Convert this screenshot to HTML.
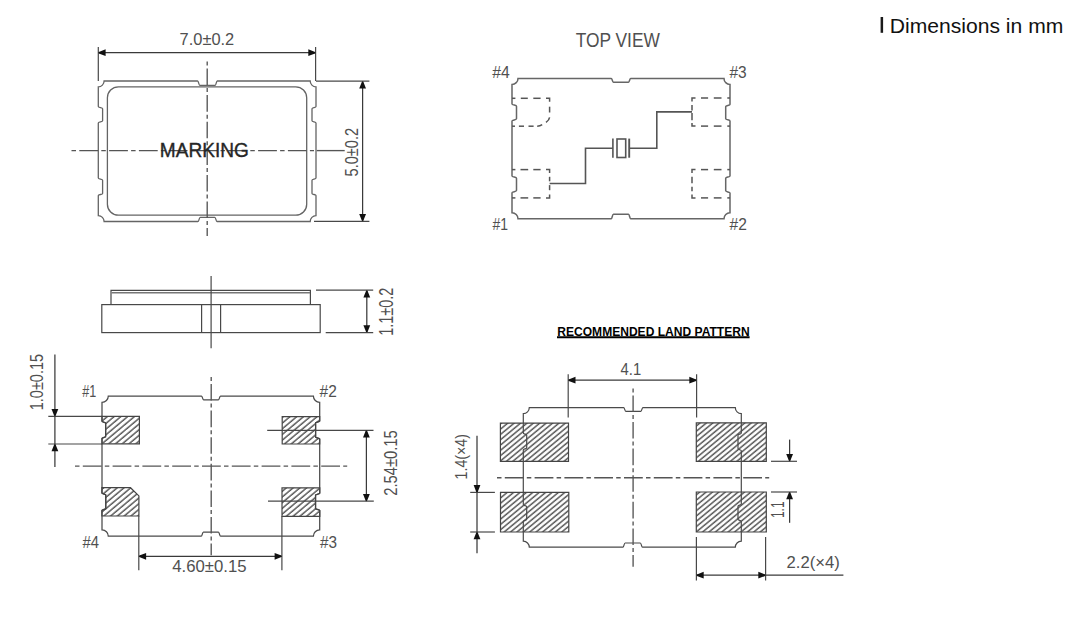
<!DOCTYPE html>
<html><head><meta charset="utf-8"><style>
html,body{margin:0;padding:0;background:#fff;}
svg{display:block;}
text{font-family:"Liberation Sans",sans-serif;}
.t{fill:#505050;}
.tm{fill:#262626;stroke:#262626;stroke-width:0.35;}
.tb{fill:#111;}
.o{fill:none;stroke:#646464;stroke-width:1.3;}
.otv{fill:none;stroke:#666;stroke-width:1.5;}
.os{fill:none;stroke:#484848;stroke-width:1.2;}
.ob{fill:none;stroke:#4a4a4a;stroke-width:1.25;}
.o2{fill:none;stroke:#777;stroke-width:1.4;}
.ot{fill:none;stroke:#4a4a4a;stroke-width:1.2;}
.d{stroke:#484848;stroke-width:1.2;}
.dl{stroke:#3a3a3a;stroke-width:1.25;}
.ul{stroke:#000;stroke-width:1.9;}
.tk{fill:#000;}
.ar{fill:#111;}
.c{stroke:#555;stroke-width:1.35;fill:none;}
.ch{stroke-dasharray:4.5 3.3 18.8 3.2;}
.cv{stroke-dasharray:4 3 16.6 3;}
.dsh{fill:none;stroke:#555;stroke-width:1.5;}
.w{fill:none;stroke:#555;stroke-width:1.6;}
.pad{fill:none;stroke:#444;stroke-width:1.2;}
</style></head><body>
<svg width="1069" height="625" viewBox="0 0 1069 625">
<defs><pattern id="hatchB" patternUnits="userSpaceOnUse" width="4.35" height="10" patternTransform="rotate(50)"><line x1="1" y1="-1" x2="1" y2="11" stroke="#555" stroke-width="1.45"/></pattern><pattern id="hatchL" patternUnits="userSpaceOnUse" width="4.08" height="10" patternTransform="rotate(50.4)"><line x1="1" y1="-1" x2="1" y2="11" stroke="#555" stroke-width="1.5"/></pattern></defs>
<path class="o" d="M104.1,81 L197.6,81 C198.7,81 198.7,85.3 199.8,85.3 L215.1,85.3 C216.2,85.3 216.2,81 217.3,81 L310.2,81 A5.8,5.8 0 0 0 316,86.8 L316,106.5 C316,107.6 312,107.6 312,108.7 L312,120.8 C312,121.9 316,121.9 316,123 L316,178 C316,179.1 312,179.1 312,180.2 L312,193.4 C312,194.5 316,194.5 316,195.6 L316,215.7 A5.8,5.8 0 0 0 310.2,221.5 L217,221.5 C215.9,221.5 215.9,217.3 214.8,217.3 L200.2,217.3 C199.1,217.3 199.1,221.5 198,221.5 L104.1,221.5 A5.8,5.8 0 0 0 98.3,215.7 L98.3,195.6 C98.3,194.5 102.6,194.5 102.6,193.4 L102.6,180.2 C102.6,179.1 98.3,179.1 98.3,178 L98.3,123 C98.3,121.9 102.6,121.9 102.6,120.8 L102.6,108.7 C102.6,107.6 98.3,107.6 98.3,106.5 L98.3,86.8 A5.8,5.8 0 0 0 104.1,81 Z"/>
<rect class="o" x="107.4" y="86.8" width="199.3" height="128.4" rx="11" ry="11"/>
<line class="c ch" x1="71.5" y1="150.6" x2="314" y2="150.6"/>
<line class="c" x1="316.7" y1="150.6" x2="344.7" y2="150.6"/>
<line class="c cv" x1="207.2" y1="61.5" x2="207.2" y2="236"/>
<text class="tm" x="159.8" y="157" font-size="19.5" textLength="89" lengthAdjust="spacingAndGlyphs">MARKING</text>
<line class="d" x1="98.3" y1="47" x2="98.3" y2="81"/>
<line class="d" x1="315.6" y1="47" x2="315.6" y2="81"/>
<line class="dl" x1="98.3" y1="52.7" x2="315.6" y2="52.7"/>
<polygon class="ar" points="98.8,52 98.8,53.4 105.6,56.1 105.6,49.3"/>
<polygon class="ar" points="315.1,52 315.1,53.4 308.3,56.1 308.3,49.3"/>
<text class="t" x="179.6" y="44.5" font-size="17" textLength="54.6" lengthAdjust="spacingAndGlyphs">7.0±0.2</text>
<line class="d" x1="316" y1="81.2" x2="369.4" y2="81.2"/>
<line class="d" x1="314" y1="221.3" x2="369.4" y2="221.3"/>
<line class="dl" x1="362.6" y1="81.2" x2="362.6" y2="221.3"/>
<polygon class="ar" points="361.9,81.7 363.3,81.7 366,88.5 359.2,88.5"/>
<polygon class="ar" points="361.9,220.8 363.3,220.8 366,214 359.2,214"/>
<text class="t" transform="translate(357.6,176.4) rotate(-90)" x="0" y="0" font-size="19" textLength="48.5" lengthAdjust="spacingAndGlyphs">5.0±0.2</text>
<text class="t" x="575.7" y="46.9" font-size="19.5" textLength="84.2" lengthAdjust="spacingAndGlyphs">TOP VIEW</text>
<path class="otv" d="M518,78.4 L611.2,78.4 C612.3,78.4 612.3,82.2 613.4,82.2 L628.5,82.2 C629.6,82.2 629.6,78.4 630.7,78.4 L724,78.4 A6,6 0 0 0 730,84.4 L730,104.4 C730,105.5 725.7,105.5 725.7,106.6 L725.7,118.7 C725.7,119.8 730,119.8 730,120.9 L730,176 C730,177.1 725.7,177.1 725.7,178.2 L725.7,190.8 C725.7,191.9 730,191.9 730,193 L730,212.7 A6,6 0 0 0 724,218.7 L630.7,218.7 C629.6,218.7 629.6,214.3 628.5,214.3 L613.4,214.3 C612.3,214.3 612.3,218.7 611.2,218.7 L518,218.7 A6,6 0 0 0 512,212.7 L512,192.8 C512,191.7 516.5,191.7 516.5,190.6 L516.5,178.2 C516.5,177.1 512,177.1 512,176 L512,121 C512,119.9 516.5,119.9 516.5,118.8 L516.5,106.2 C516.5,105.1 512,105.1 512,104 L512,84.4 A6,6 0 0 0 518,78.4 Z"/>
<path class="dsh" d="M512,98.3 L515.4,98.3"/>
<path class="dsh" d="M520.8,98.3 L527.8,98.3"/>
<path class="dsh" d="M533.3,98.3 L540.6,98.3"/>
<path class="dsh" d="M546,98.3 L549.6,98.3 L549.6,101.8"/>
<path class="dsh" d="M549.6,106.7 L549.6,112.5"/>
<path class="dsh" d="M549.6,117.3 Q549.2,120 546,122.3"/>
<path class="dsh" d="M542.2,124.6 Q540,126 537.2,126.2"/>
<path class="dsh" d="M528.5,126.2 L533.6,126.2"/>
<path class="dsh" d="M518.9,126.2 L524,126.2"/>
<path class="dsh" d="M512,126.2 L515,126.2"/>
<path class="dsh" d="M512,169.6 L515.4,169.6"/>
<path class="dsh" d="M520.5,169.6 L528.2,169.6"/>
<path class="dsh" d="M533.3,169.6 L540.6,169.6"/>
<path class="dsh" d="M546,169.6 L549.6,169.6 L549.6,173.1"/>
<path class="dsh" d="M549.6,176.8 L549.6,181.3"/>
<path class="dsh" d="M549.6,185.1 L549.6,190.2"/>
<path class="dsh" d="M549.6,194.4 L549.6,197.9 L546,197.9"/>
<path class="dsh" d="M512,197.9 L515.4,197.9"/>
<path class="dsh" d="M520.5,197.9 L528.2,197.9"/>
<path class="dsh" d="M533.3,197.9 L540.6,197.9"/>
<path class="dsh" d="M695.5,98 L692,98 L692,101.4"/>
<path class="dsh" d="M701,98 L708.1,98"/>
<path class="dsh" d="M713.8,98 L721.5,98"/>
<path class="dsh" d="M727.3,98 L730,98"/>
<path class="dsh" d="M692,105.1 L692,110.5"/>
<path class="dsh" d="M692,113.1 L692,120.2"/>
<path class="dsh" d="M692,123 L692,126.1 L695.5,126.1"/>
<path class="dsh" d="M701,126.1 L708.1,126.1"/>
<path class="dsh" d="M713.8,126.1 L721.5,126.1"/>
<path class="dsh" d="M727.3,126.1 L730,126.1"/>
<path class="dsh" d="M695.5,169.6 L692,169.6 L692,173"/>
<path class="dsh" d="M701,169.6 L708.1,169.6"/>
<path class="dsh" d="M713.8,169.6 L721.5,169.6"/>
<path class="dsh" d="M727.3,169.6 L730,169.6"/>
<path class="dsh" d="M692,176.7 L692,183.3"/>
<path class="dsh" d="M692,186.7 L692,191.2"/>
<path class="dsh" d="M692,194.4 L692,197.9 L695.5,197.9"/>
<path class="dsh" d="M701,197.9 L708.1,197.9"/>
<path class="dsh" d="M713.8,197.9 L721.5,197.9"/>
<path class="dsh" d="M727.3,197.9 L730,197.9"/>
<path class="w" d="M549.6,183.5 L585.5,183.5 L585.5,148.2 L612.9,148.2"/>
<path class="w" d="M629.4,148.2 L656.8,148.2 L656.8,111.9 L692,111.9"/>
<line class="w" x1="612.9" y1="138.6" x2="612.9" y2="157.7"/>
<rect class="w" x="617" y="139" width="8.7" height="18.5"/>
<line class="w" x1="629.2" y1="138.6" x2="629.2" y2="157.7" style="stroke-width:1.9"/>
<text class="t" x="492.2" y="78.1" font-size="16.5" textLength="17.5" lengthAdjust="spacingAndGlyphs">#4</text>
<text class="t" x="729.5" y="77.8" font-size="16.5" textLength="17.2" lengthAdjust="spacingAndGlyphs">#3</text>
<text class="t" x="492.5" y="229.6" font-size="16.5" textLength="15.5" lengthAdjust="spacingAndGlyphs">#1</text>
<text class="t" x="729.6" y="229.6" font-size="16.5" textLength="17.3" lengthAdjust="spacingAndGlyphs">#2</text>
<rect x="880.6" y="17" width="2.5" height="15.8" fill="#1a1a1a"/>
<text class="tb" x="889.8" y="32.8" font-size="21" textLength="173.5" lengthAdjust="spacingAndGlyphs">Dimensions in mm</text>
<path class="os" d="M111,304.7 L111,290.3 L310.4,290.3 L310.4,304.7"/>
<line class="o2" x1="111.5" y1="292.8" x2="310" y2="292.8"/>
<rect class="os" x="101.8" y="304.6" width="218.4" height="28"/>
<line class="os" x1="201.6" y1="304.6" x2="201.6" y2="332.6"/>
<line class="os" x1="220.6" y1="304.6" x2="220.6" y2="332.6"/>
<line class="os" x1="211.1" y1="276" x2="211.1" y2="348.3"/>
<line class="d" x1="316" y1="290.2" x2="373.2" y2="290.2"/>
<line class="d" x1="325.7" y1="332.6" x2="373.2" y2="332.6"/>
<line class="dl" x1="366.8" y1="290.2" x2="366.8" y2="332.6"/>
<polygon class="ar" points="366.1,290.7 367.5,290.7 370.2,297.5 363.4,297.5"/>
<polygon class="ar" points="366.1,332.1 367.5,332.1 370.2,325.3 363.4,325.3"/>
<text class="t" transform="translate(392.8,335.7) rotate(-90)" x="0" y="0" font-size="19.5" textLength="48" lengthAdjust="spacingAndGlyphs">1.1±0.2</text>
<path class="ob" d="M108.3,396 L201.4,396 C202.5,396 202.5,399.8 203.6,399.8 L218.4,399.8 C219.5,399.8 219.5,396 220.6,396 L313.4,396 A6.3,6.3 0 0 0 319.7,402.3 L319.7,421 C319.7,422.1 315.6,422.1 315.6,423.2 L315.6,436.8 C315.6,437.9 319.7,437.9 319.7,439 L319.7,493.2 C319.7,494.3 315.6,494.3 315.6,495.4 L315.6,508.3 C315.6,509.4 319.7,509.4 319.7,510.5 L319.7,529.9 A6.3,6.3 0 0 0 313.4,536.2 L220.6,536.2 C219.5,536.2 219.5,532 218.4,532 L203.4,532 C202.3,532 202.3,536.2 201.2,536.2 L108.3,536.2 A6.3,6.3 0 0 0 102,529.9 L102,510.4 C102,509.3 105.7,509.3 105.7,508.2 L105.7,495.2 C105.7,494.1 102,494.1 102,493 L102,438.5 C102,437.4 105.7,437.4 105.7,436.3 L105.7,423.4 C105.7,422.3 102,422.3 102,421.2 L102,402.3 A6.3,6.3 0 0 0 108.3,396 Z"/>
<clipPath id="c1"><path d="M102,416.4 L139.4,416.4 L139.4,443.8 L102,443.8 L102,438.5 L105.6,436.9 L105.6,422.8 L102,421.2 Z"/></clipPath>
<rect clip-path="url(#c1)" x="0" y="0" width="1069" height="625" fill="url(#hatchB)"/>
<path class="pad" d="M102,416.4 L139.4,416.4 L139.4,443.8 L102,443.8 L102,438.5 L105.6,436.9 L105.6,422.8 L102,421.2 Z"/>
<clipPath id="c2"><path d="M319.7,416.6 L282.2,416.6 L282.2,444 L319.7,444 L319.7,439 L315.6,437.4 L315.6,422.6 L319.7,421 Z"/></clipPath>
<rect clip-path="url(#c2)" x="0" y="0" width="1069" height="625" fill="url(#hatchB)"/>
<path class="pad" d="M319.7,416.6 L282.2,416.6 L282.2,444 L319.7,444 L319.7,439 L315.6,437.4 L315.6,422.6 L319.7,421 Z"/>
<clipPath id="c3"><path d="M319.8,487.8 L282,487.8 L282,516.3 L319.8,516.3 L319.8,510.5 L315.5,508.9 L315.5,494.8 L319.8,493.2 Z"/></clipPath>
<rect clip-path="url(#c3)" x="0" y="0" width="1069" height="625" fill="url(#hatchB)"/>
<path class="pad" d="M319.8,487.8 L282,487.8 L282,516.3 L319.8,516.3 L319.8,510.5 L315.5,508.9 L315.5,494.8 L319.8,493.2 Z"/>
<clipPath id="c4"><path d="M101.9,487.7 L130.5,487.7 L138.9,495.9 L138.9,516 L101.9,516 L101.9,510.4 L105.8,508.79999999999995 L105.8,494.6 L101.9,493 Z"/></clipPath>
<rect clip-path="url(#c4)" x="0" y="0" width="1069" height="625" fill="url(#hatchB)"/>
<path class="pad" d="M101.9,487.7 L130.5,487.7 L138.9,495.9 L138.9,516 L101.9,516 L101.9,510.4 L105.8,508.79999999999995 L105.8,494.6 L101.9,493 Z"/>
<line class="c ch" x1="75" y1="466.1" x2="347.2" y2="466.1"/>
<line class="c cv" x1="211.2" y1="377" x2="211.2" y2="555.2"/>
<line class="d" x1="48.3" y1="416.3" x2="102" y2="416.3"/>
<line class="d" x1="48.3" y1="444" x2="102" y2="444"/>
<line class="dl" x1="54.9" y1="354.6" x2="54.9" y2="467"/>
<polygon class="ar" points="54.2,415.8 55.6,415.8 58.3,409 51.5,409"/>
<polygon class="ar" points="54.2,444.5 55.6,444.5 58.3,451.3 51.5,451.3"/>
<text class="t" transform="translate(43.2,410.2) rotate(-90)" x="0" y="0" font-size="19" textLength="56.2" lengthAdjust="spacingAndGlyphs">1.0±0.15</text>
<line class="d" x1="267.2" y1="430.3" x2="373.5" y2="430.3"/>
<line class="d" x1="268" y1="501.2" x2="373.8" y2="501.2"/>
<line class="dl" x1="366.4" y1="430.3" x2="366.4" y2="501.2"/>
<polygon class="ar" points="365.7,430.8 367.1,430.8 369.8,437.6 363,437.6"/>
<polygon class="ar" points="365.7,500.7 367.1,500.7 369.8,493.9 363,493.9"/>
<text class="t" transform="translate(397.4,495.8) rotate(-90)" x="0" y="0" font-size="19" textLength="65.6" lengthAdjust="spacingAndGlyphs">2.54±0.15</text>
<line class="d" x1="138.8" y1="516" x2="138.8" y2="570.2"/>
<line class="d" x1="281.9" y1="516.3" x2="281.9" y2="570.2"/>
<line class="dl" x1="138.8" y1="556.3" x2="281.9" y2="556.3"/>
<polygon class="ar" points="139.3,555.6 139.3,557 146.1,559.7 146.1,552.9"/>
<polygon class="ar" points="281.4,555.6 281.4,557 274.6,559.7 274.6,552.9"/>
<text class="t" x="172.3" y="571.6" font-size="16.5" textLength="74.2" lengthAdjust="spacingAndGlyphs">4.60±0.15</text>
<text class="t" x="82.3" y="396.9" font-size="16.5" textLength="14" lengthAdjust="spacingAndGlyphs">#1</text>
<text class="t" x="319.6" y="397.2" font-size="16.5" textLength="17.2" lengthAdjust="spacingAndGlyphs">#2</text>
<text class="t" x="82.5" y="547.6" font-size="16.5" textLength="16.5" lengthAdjust="spacingAndGlyphs">#4</text>
<text class="t" x="319.9" y="548" font-size="16.5" textLength="17" lengthAdjust="spacingAndGlyphs">#3</text>
<text class="tk" x="557.3" y="335.7" font-size="12.6" textLength="192.3" lengthAdjust="spacingAndGlyphs" font-weight="bold">RECOMMENDED LAND PATTERN</text>
<line class="ul" x1="557" y1="337.3" x2="749.6" y2="337.3"/>
<clipPath id="c5"><path d="M500.4,423.1 L568.5,423.1 L568.5,461.4 L500.4,461.4 Z"/></clipPath>
<rect clip-path="url(#c5)" x="0" y="0" width="1069" height="625" fill="url(#hatchL)"/>
<path class="pad" d="M500.4,423.1 L568.5,423.1 L568.5,461.4 L500.4,461.4 Z"/>
<clipPath id="c6"><path d="M500.5,492.4 L568.8,492.4 L568.8,532 L500.5,532 Z"/></clipPath>
<rect clip-path="url(#c6)" x="0" y="0" width="1069" height="625" fill="url(#hatchL)"/>
<path class="pad" d="M500.5,492.4 L568.8,492.4 L568.8,532 L500.5,532 Z"/>
<clipPath id="c7"><path d="M696.3,422.8 L766.3,422.8 L766.3,461.3 L696.3,461.3 Z"/></clipPath>
<rect clip-path="url(#c7)" x="0" y="0" width="1069" height="625" fill="url(#hatchL)"/>
<path class="pad" d="M696.3,422.8 L766.3,422.8 L766.3,461.3 L696.3,461.3 Z"/>
<clipPath id="c8"><path d="M696.3,492 L766.3,492 L766.3,532 L696.3,532 Z"/></clipPath>
<rect clip-path="url(#c8)" x="0" y="0" width="1069" height="625" fill="url(#hatchL)"/>
<path class="pad" d="M696.3,492 L766.3,492 L766.3,532 L696.3,532 Z"/>
<path class="ot" d="M529.3,407.6 L623.6,407.6 C624.7,407.6 624.7,411.3 625.8,411.3 L640.8,411.3 C641.9,411.3 641.9,407.6 643,407.6 L735.3,407.6 A6,6 0 0 0 741.3,413.6 L741.3,433 C741.3,434.1 738,434.1 738,435.2 L738,448.6 C738,449.7 741.3,449.7 741.3,450.8 L741.3,504 C741.3,505.1 738,505.1 738,506.2 L738,519.3 C738,520.4 741.3,520.4 741.3,521.5 L741.3,541.2 A6,6 0 0 0 735.3,547.2 L642.5,547.2 C641.4,547.2 641.4,543 640.3,543 L625.1,543 C624,543 624,547.2 622.9,547.2 L529.3,547.2 A6,6 0 0 0 523.3,541.2 L523.3,521.5 C523.3,520.4 526.7,520.4 526.7,519.3 L526.7,506.7 C526.7,505.6 523.3,505.6 523.3,504.5 L523.3,450 C523.3,448.9 526.7,448.9 526.7,447.8 L526.7,435.2 C526.7,434.1 523.3,434.1 523.3,433 L523.3,413.6 A6,6 0 0 0 529.3,407.6 Z"/>
<line class="c ch" x1="497" y1="477.7" x2="769.2" y2="477.7"/>
<line class="c cv" x1="633.1" y1="388.4" x2="633.1" y2="566.8"/>
<line class="d" x1="568.2" y1="374.3" x2="568.2" y2="417.5"/>
<line class="d" x1="696.6" y1="374.3" x2="696.6" y2="417.5"/>
<line class="dl" x1="568.2" y1="380.2" x2="696.6" y2="380.2"/>
<polygon class="ar" points="568.7,379.5 568.7,380.9 575.5,383.6 575.5,376.8"/>
<polygon class="ar" points="696.1,379.5 696.1,380.9 689.3,383.6 689.3,376.8"/>
<text class="t" x="620.6" y="375.1" font-size="17" textLength="20.6" lengthAdjust="spacingAndGlyphs">4.1</text>
<line class="d" x1="470.2" y1="492.4" x2="494.9" y2="492.4"/>
<line class="d" x1="470.2" y1="532" x2="494.9" y2="532"/>
<line class="dl" x1="477" y1="435.7" x2="477" y2="553.3"/>
<polygon class="ar" points="476.3,491.9 477.7,491.9 480.4,485.1 473.6,485.1"/>
<polygon class="ar" points="476.3,532.5 477.7,532.5 480.4,539.3 473.6,539.3"/>
<text class="t" transform="translate(466.6,479.4) rotate(-90)" x="0" y="0" font-size="17.2" textLength="45.4" lengthAdjust="spacingAndGlyphs">1.4(×4)</text>
<line class="d" x1="771" y1="461.3" x2="797" y2="461.3"/>
<line class="d" x1="771" y1="492" x2="797" y2="492"/>
<line class="dl" x1="789.6" y1="439.6" x2="789.6" y2="461.3"/>
<line class="dl" x1="789.6" y1="492" x2="789.6" y2="522.8"/>
<polygon class="ar" points="788.9,460.8 790.3,460.8 793,454 786.2,454"/>
<polygon class="ar" points="788.9,492.5 790.3,492.5 793,499.3 786.2,499.3"/>
<text class="t" transform="translate(784.2,517.9) rotate(-90)" x="0" y="0" font-size="18" textLength="16.3" lengthAdjust="spacingAndGlyphs">1.1</text>
<line class="d" x1="696.4" y1="536.9" x2="696.4" y2="580.4"/>
<line class="d" x1="765.6" y1="536.9" x2="765.6" y2="580.4"/>
<line class="dl" x1="696.4" y1="575.2" x2="843.4" y2="575.2"/>
<polygon class="ar" points="696.9,574.5 696.9,575.9 703.7,578.6 703.7,571.8"/>
<polygon class="ar" points="765.1,574.5 765.1,575.9 758.3,578.6 758.3,571.8"/>
<text class="t" x="786.5" y="568.4" font-size="17" textLength="53.2" lengthAdjust="spacingAndGlyphs">2.2(×4)</text>
</svg>
</body></html>
